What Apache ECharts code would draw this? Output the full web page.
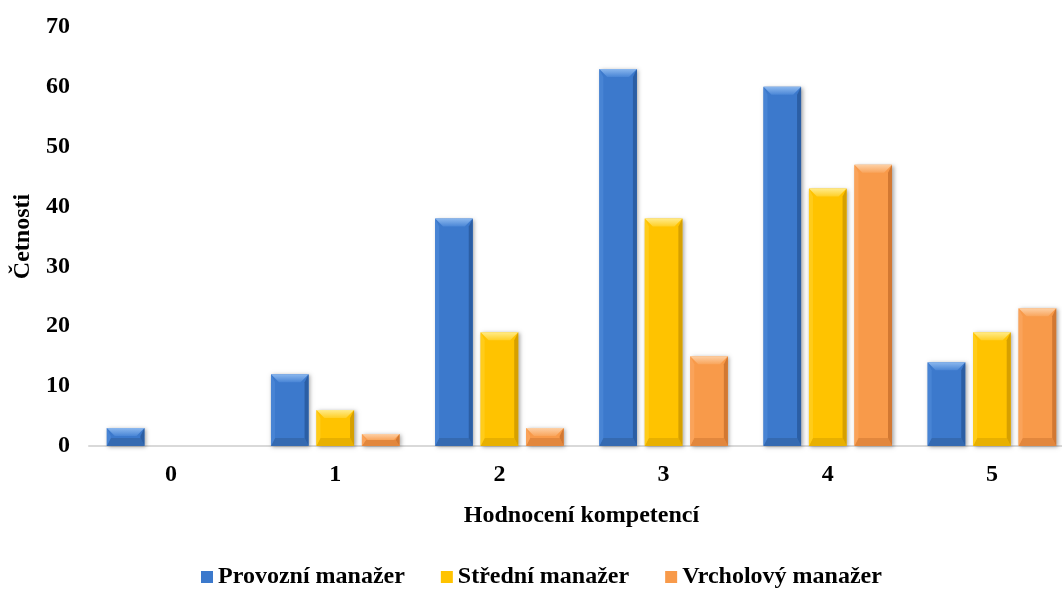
<!DOCTYPE html>
<html>
<head>
<meta charset="utf-8">
<script src="https://cdn.jsdelivr.net/npm/echarts@6/dist/echarts.min.js"></script>
<style>
  html, body { margin: 0; padding: 0; background: #ffffff; }
  #chart { width: 1062px; height: 590px; }
</style>
</head>
<body>
<div id="chart"></div>
<script>
// Rating categories (x axis)
const categories = ['0', '1', '2', '3', '4', '5'];
// Y axis ticks
const yTicks = { min: 0, max: 70, step: 10 };

// Frequencies per manager level
const seriesNames = ['Provozní manažer', 'Střední manažer', 'Vrcholový manažer'];
const provozni = [3, 12, 38, 63, 60, 14];
const stredni = [0, 6, 19, 38, 43, 19];
const vrcholovy = [0, 2, 3, 15, 47, 23];

// Bevel palettes: body, top cap (light -> mid), left edge, right edge, bottom edge
const palettes = [
  { body: '#3c79cc', topA: '#8cb8ee', topB: '#4a86d6', left: '#4884d4', right: '#2b5ea4', bottom: '#30619f' },
  { body: '#ffc300', topA: '#ffeb8a', topB: '#ffcf26', left: '#ffcc1a', right: '#d6a000', bottom: '#d9a400' },
  { body: '#f89a4a', topA: '#fdd0a6', topB: '#f9a55c', left: '#faa35a', right: '#d27832', bottom: '#d47c36' }
];

const FONT = '"Liberation Serif", "Times New Roman", serif';

function bevelBar(seriesIdx) {
  const pal = palettes[seriesIdx];
  return function (params, api) {
    const cat = api.value(0);
    const val = api.value(1);
    if (!val) return null;
    const base = api.coord([cat, 0]);
    const topPt = api.coord([cat, val]);
    const band = api.size([1, 0])[0];
    const w = band * 0.229;
    const step = band * 0.277;
    const cx = base[0] + (seriesIdx - 1) * step;
    const x = cx - w / 2;
    const y = topPt[1];
    const h = base[1] - topPt[1];
    const b = Math.min(8, h / 2, w / 2);
    const bs = Math.min(4, h / 2);
    return {
      type: 'group',
      children: [
        {
          type: 'rect',
          shape: { x: x, y: y, width: w, height: h },
          style: {
            fill: pal.body,
            shadowBlur: 4, shadowColor: 'rgba(0,0,0,0.35)',
            shadowOffsetX: 1.5, shadowOffsetY: 1
          }
        },
        {
          type: 'polygon',
          shape: { points: [[x, y + h], [x + bs, y + h - b], [x + w - bs, y + h - b], [x + w, y + h]] },
          style: { fill: pal.bottom, opacity: 0.6 }
        },
        {
          type: 'polygon',
          shape: { points: [[x, y], [x + bs, y + b], [x + bs, y + h - b], [x, y + h]] },
          style: { fill: pal.left }
        },
        {
          type: 'polygon',
          shape: { points: [[x + w, y], [x + w, y + h], [x + w - bs, y + h - b], [x + w - bs, y + b]] },
          style: { fill: pal.right }
        },
        {
          type: 'polygon',
          shape: { points: [[x, y], [x + w, y], [x + w - b, y + b], [x + b, y + b]] },
          style: {
            fill: new echarts.graphic.LinearGradient(0, 0, 0, 1, [
              { offset: 0, color: pal.topA },
              { offset: 1, color: pal.topB }
            ])
          }
        }
      ]
    };
  };
}

const allValues = [provozni, stredni, vrcholovy];

const chart = echarts.init(document.getElementById('chart'), null, { renderer: 'canvas' });

chart.setOption({
  backgroundColor: '#ffffff',
  animation: false,
  textStyle: { fontFamily: FONT },
  grid: { left: 89, top: 27, width: 985, height: 419, containLabel: false, outerBoundsMode: 'none' },
  legend: {
    data: seriesNames.map((n, i) => ({ name: n, itemStyle: { color: palettes[i].body } })),
    left: 201,
    top: 565,
    icon: 'rect',
    itemWidth: 12,
    itemHeight: 12,
    itemGap: 36,
    padding: 0,
    textStyle: { fontFamily: FONT, fontWeight: 'bold', fontSize: 24, color: '#000000' }
  },
  xAxis: {
    type: 'category',
    data: categories,
    boundaryGap: true,
    axisLine: { show: true, lineStyle: { color: '#d9d9d9', width: 2 } },
    axisTick: { show: false },
    axisLabel: { fontFamily: FONT, fontWeight: 'bold', fontSize: 24, color: '#000000', margin: 17 },
    name: 'Hodnocení kompetencí',
    nameLocation: 'middle',
    nameGap: 58,
    nameTextStyle: { fontFamily: FONT, fontWeight: 'bold', fontSize: 24, color: '#000000' },
    splitLine: { show: false }
  },
  yAxis: {
    type: 'value',
    min: yTicks.min,
    max: yTicks.max,
    interval: yTicks.step,
    axisLine: { show: false },
    axisTick: { show: false },
    splitLine: { show: false },
    axisLabel: { fontFamily: FONT, fontWeight: 'bold', fontSize: 24, color: '#000000', margin: 19 },
    name: 'Četnosti',
    nameLocation: 'middle',
    nameGap: 47,
    nameRotate: 90,
    nameTextStyle: { fontFamily: FONT, fontWeight: 'bold', fontSize: 24, color: '#000000' }
  },
  series: allValues.map((vals, i) => ({
    type: 'custom',
    name: seriesNames[i],
    itemStyle: { color: palettes[i].body },
    renderItem: bevelBar(i),
    encode: { x: 0, y: 1 },
    clip: false,
    data: vals.map((v, c) => [c, v])
  }))
});
</script>
</body>
</html>
